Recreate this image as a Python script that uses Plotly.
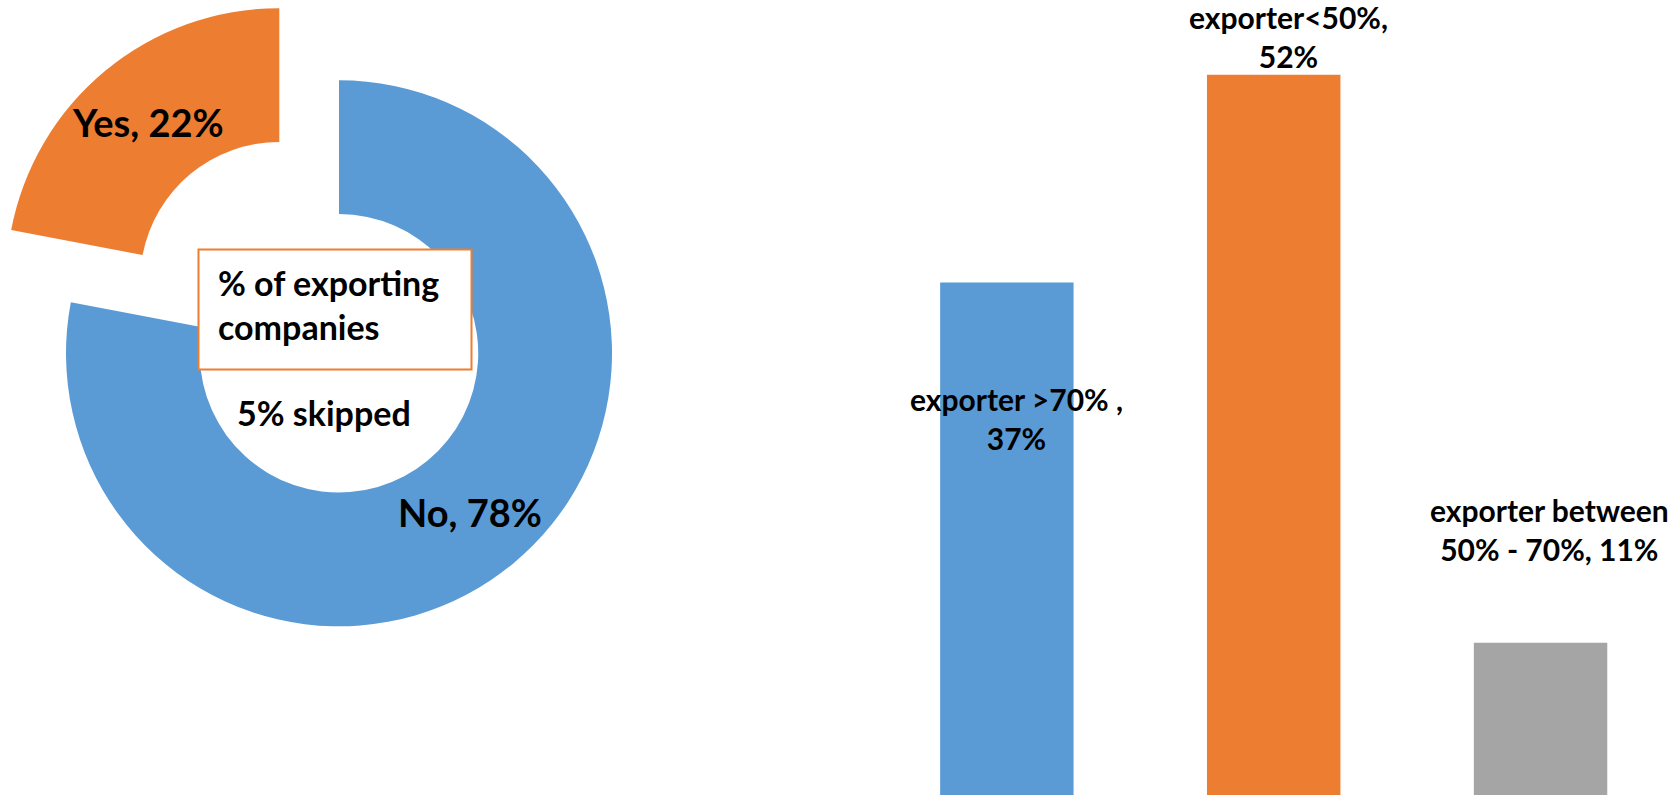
import math
import plotly.graph_objects as go

W, H = 1672, 795

# Share of companies that export
pie_labels = ["No", "Yes"]
pie_values = [78, 22]
pie_colors = ["#5B9BD5", "#ED7D31"]
skipped_share = 5
center_title = "% of exporting<br>companies"

# Exporters split by export share of turnover
bar_categories = ["exporter >70% ", "exporter<50%", "exporter between<br>50% - 70%"]
bar_values = [37, 52, 11]
bar_colors = ["#5B9BD5", "#ED7D31", "#A5A5A5"]
label_breaks = ["<br>", "<br>", " "]

FONT = "Lato"
INK = "#000000"

# Donut geometry (pixels)
CX, CY, R = 339, 353.3, 273
HOLE = 0.51
PULL = 0.343           # how far the "Yes" slice is pulled out, as a share of R

# Bar panel geometry (pixels)
BAR_STEP = 266.85      # distance between neighbouring bar centres
BAR_MID = 1273.7       # centre of the middle bar
PX_PER_PCT = 13.85


def to_paper(px, py):
    return px / W, 1 - py / H


def slice_mid_angle(idx):
    """Clockwise angle from 12 o'clock to the middle of slice idx (radians)."""
    total = sum(pie_values)
    start = sum(pie_values[:idx])
    return 2 * math.pi * (start + pie_values[idx] / 2) / total


def donut_layer(visible_idx, cx, cy):
    colors = [c if i == visible_idx else "rgba(0,0,0,0)" for i, c in enumerate(pie_colors)]
    x0, y1 = to_paper(cx - R, cy - R)
    x1, y0 = to_paper(cx + R, cy + R)
    return go.Pie(
        labels=pie_labels, values=pie_values, hole=HOLE, sort=False,
        direction="clockwise", rotation=0,
        marker=dict(colors=colors, line=dict(width=0)),
        textinfo="none", hoverinfo="skip", showlegend=False,
        domain=dict(x=[x0, x1], y=[y0, y1]),
    )


fig = go.Figure()

# "No" ring in place, "Yes" slice pushed outward along its bisector
centers = []
for i in range(len(pie_values)):
    pull = PULL if pie_labels[i] == "Yes" else 0.0
    a = slice_mid_angle(i)
    cx = CX + pull * R * math.sin(a)
    cy = CY - pull * R * math.cos(a)
    centers.append((cx, cy))
    fig.add_trace(donut_layer(i, cx, cy))

# Bars
fig.add_trace(go.Bar(
    x=bar_categories, y=bar_values, marker=dict(color=bar_colors, line=dict(width=0)),
    hoverinfo="skip", showlegend=False, xaxis="x", yaxis="y",
))

annotations = []

# Slice labels at the middle of the ring
ring_mid = R * (1 + HOLE) / 2
for i, (lab, val) in enumerate(zip(pie_labels, pie_values)):
    a = slice_mid_angle(i)
    cx, cy = centers[i]
    px = cx + ring_mid * math.sin(a)
    py = cy - ring_mid * math.cos(a)
    x, y = to_paper(px, py)
    annotations.append(dict(
        x=x, y=y, xref="paper", yref="paper", text=f"<b>{lab}, {val}%</b>",
        showarrow=False, xanchor="center", yanchor="middle",
        font=dict(family=FONT, size=38, color=INK), borderpad=0, borderwidth=0,
    ))

# Title inside the hole
tx, ty = to_paper(218, 304)
annotations.append(dict(
    x=tx, y=ty, xref="paper", yref="paper", text=f"<b>{center_title}</b>",
    showarrow=False, xanchor="left", yanchor="middle", align="left",
    font=dict(family=FONT, size=34, color=INK), borderpad=0, borderwidth=0,
))
sx, sy = to_paper(324, 412)
annotations.append(dict(
    x=sx, y=sy, xref="paper", yref="paper", text=f"<b>{skipped_share}% skipped</b>",
    showarrow=False, xanchor="center", yanchor="middle",
    font=dict(family=FONT, size=34, color=INK), borderpad=0, borderwidth=0,
))

# Bar data labels
label_xshift = [10, 15, 9]
label_yshift = [-136, 38, 113]
for i, (cat, val) in enumerate(zip(bar_categories, bar_values)):
    annotations.append(dict(
        x=cat, y=val, xref="x", yref="y",
        text=f"<b>{cat},{label_breaks[i]}{val}%</b>",
        showarrow=False, xanchor="center", yanchor="middle", align="center",
        xshift=label_xshift[i], yshift=label_yshift[i],
        font=dict(family=FONT, size=30, color=INK), borderpad=0, borderwidth=0,
    ))

bx0, by1 = to_paper(198.5, 249.5)
bx1, by0 = to_paper(471.5, 369.5)

x_left = BAR_MID - 1.5 * BAR_STEP
x_max = 1 + (W - BAR_MID) / BAR_STEP

fig.update_layout(
    width=W, height=H, autosize=False,
    margin=dict(l=0, r=0, t=0, b=0, pad=0),
    paper_bgcolor="white", plot_bgcolor="white",
    showlegend=False, bargap=0.5,
    font=dict(family=FONT),
    xaxis=dict(domain=[x_left / W, 1.0], range=[-0.5, x_max], visible=False,
               type="category", fixedrange=True),
    yaxis=dict(domain=[0, 1], range=[0, H / PX_PER_PCT], visible=False, fixedrange=True),
    shapes=[dict(type="rect", xref="paper", yref="paper", x0=bx0, x1=bx1, y0=by0, y1=by1,
                 line=dict(color="#ED7D31", width=2), fillcolor="white", layer="above")],
    annotations=annotations,
)

fig.write_html("out.html", config={"displayModeBar": False})
